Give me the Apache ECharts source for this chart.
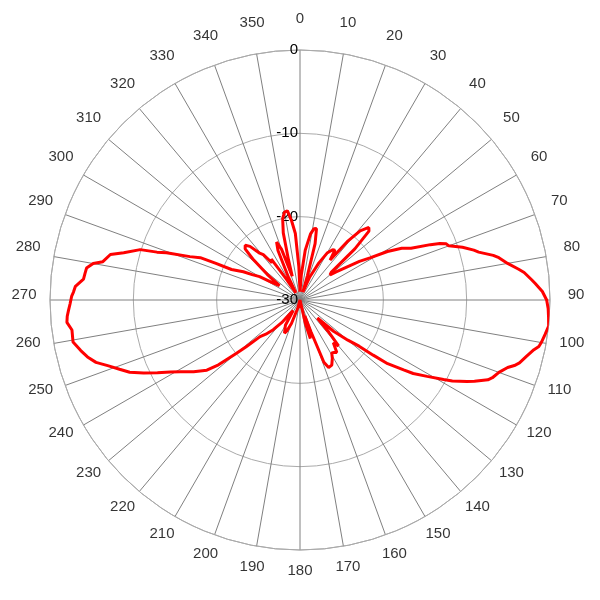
<!DOCTYPE html>
<html>
<head>
<meta charset="utf-8">
<script src="https://cdn.jsdelivr.net/npm/echarts@6/dist/echarts.min.js"></script>
<style>html,body{margin:0;padding:0;background:#fff;}#c{width:600px;height:600px;}</style>
</head>
<body>
<div id="c"></div>
<script>
// Angles (degrees, clockwise from north) and gain values (dB)
var angles = [0,3,6,9,11,13,15,17,20,23,27,30,33,35,37,39,41,43.5,45,47,48.5,50,52,55,57,59,61,63,65,67,68,69,70,72,74,75,77,78,80,82,83,85,86,88,90,92,94,96,98,100,101,102,104,106,107,108,110,112,113,115,116,118,119,121,123,124,126,127,128,130,133,136,138,140,142,145,147,149,151,154,157,159,161,163,165,167,170,175,180,185,190,195,200,203,205,208,210,213,216,219,222,225,227.5,229,230,231.5,233,236,239,241,243,245,247,249,251,253,255,257,259.5,262.5,264.5,266,267.5,269,271,272,273.5,275.5,277,278.5,280,281,283.5,285,287.5,288.5,289.5,291.5,293,293.5,294,296.5,298,300,302,305,308,311,313,315,317,319,321,323,325,327,330,333,336,338,340,342,344,346,348,350,352,354,356,358,360];
var gains = [-29,-27,-24,-22,-21.3,-21.2,-23,-27,-29,-27,-25,-23.5,-22.8,-22.7,-24,-21,-19,-18,-18.3,-21,-25,-25.3,-24.5,-23,-21.5,-20.2,-18,-16.3,-15.3,-13,-11.9,-11.2,-11.0,-9.5,-8.3,-7.8,-6.2,-5.6,-4.7,-3.5,-2.9,-2.1,-1.7,-0.9,-0.4,-0.2,-0.1,0,-0.3,-0.6,-0.8,-1.3,-2.0,-2.6,-3.1,-3.8,-4.6,-5.1,-5.5,-6.9,-7.7,-9.3,-10.3,-12.2,-13.8,-15.0,-17.0,-19,-21,-22.5,-24.5,-27,-25,-22.8,-23.5,-22.3,-22.5,-22.6,-22,-21.3,-21.2,-22,-26,-28,-25.2,-27,-30,-30,-29,-30,-30,-29,-27,-26,-25.6,-25.7,-26.5,-28.5,-28,-26.5,-25.2,-24.2,-23.5,-21.5,-20,-17.5,-16,-14.6,-13.3,-12.2,-10.8,-9.3,-7.8,-6.8,-5.7,-4.4,-3.6,-3.0,-2.3,-2.4,-1.9,-2.0,-2.2,-2.4,-2.6,-2.8,-3.0,-3.9,-4.0,-4.1,-4.8,-5.9,-6.6,-8.1,-9.9,-11.9,-13,-15.8,-17,-19,-21,-22.4,-23.5,-24.4,-26,-27,-25,-22.5,-21,-20.7,-21.2,-22.5,-23.0,-24.4,-24,-27,-29,-27,-23.5,-22.5,-23.5,-27,-25,-21.7,-20,-19.3,-19.2,-20.5,-22,-26,-29];
var radialTicks = [-30, -20, -10, 0];
var angleTicks = [0,10,20,30,40,50,60,70,80,90,100,110,120,130,140,150,160,170,180,190,200,210,220,230,240,250,260,270,280,290,300,310,320,330,340,350];
var angleTickLabels = ['0','10','20','30','40','50','60','70','80','90','100','110','120','130','140','150','160','170','180','190','200','210','220','230','240','250','260','270','280','290','300','310','320','330','340','350'];

var data = angles.map(function (a, i) { return [gains[i], a]; });
var labelData = angleTicks.map(function (a) { return [1, a]; });

var chart = echarts.init(document.getElementById('c'));
chart.setOption({
  animation: false,
  backgroundColor: '#ffffff',
  polar: [
    { center: [300, 300], radius: 250 },
    { center: [300, 295], radius: 276 }
  ],
  angleAxis: [{
    polarIndex: 0,
    type: 'value', min: 0, max: 360, interval: 10,
    startAngle: 90, clockwise: true,
    axisLine: { show: true, lineStyle: { color: '#aaaaaa', width: 1 } },
    axisTick: { show: false },
    splitLine: { show: true, lineStyle: { color: '#808080', width: 1 } },
    axisLabel: { show: false }
  }, {
    polarIndex: 1,
    type: 'value', min: 0, max: 360, interval: 10,
    startAngle: 90, clockwise: true, show: false
  }],
  radiusAxis: [{
    polarIndex: 0,
    type: 'value', min: radialTicks[0], max: radialTicks[radialTicks.length - 1], interval: 10,
    axisLine: { show: false },
    axisTick: { show: false },
    splitLine: { show: true, lineStyle: { color: '#aaaaaa', width: 1 } },
    axisLabel: { show: true, color: '#000', fontFamily: 'Liberation Sans', fontSize: 15, margin: 2 }
  }, {
    polarIndex: 1,
    type: 'value', min: 0, max: 1, show: false
  }],
  series: [{
    type: 'line', coordinateSystem: 'polar', polarIndex: 0, data: data,
    showSymbol: false, symbol: 'none', smooth: false,
    lineStyle: { color: '#ff0000', width: 3 },
    z: 10, silent: true
  }, {
    type: 'scatter', coordinateSystem: 'polar', polarIndex: 1, data: labelData,
    symbolSize: 0, silent: true,
    label: {
      show: true, position: 'inside', color: '#000',
      fontFamily: 'Liberation Sans', fontSize: 15,
      formatter: function (p) { return angleTickLabels[p.dataIndex]; }
    }
  }]
});
</script>
</body>
</html>
